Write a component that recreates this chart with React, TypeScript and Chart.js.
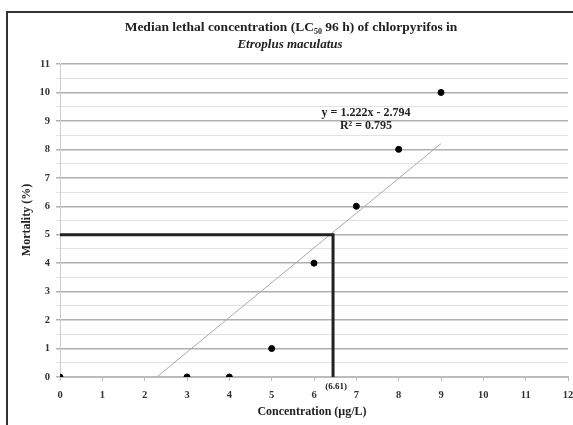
import React, { useEffect, useRef } from "react";
import { Chart, registerables } from "chart.js";

Chart.register(...registerables);

const concentration = [0, 3, 4, 5, 6, 7, 8, 9];
const mortality = [0, 0, 0, 1, 4, 6, 8, 10];
const slope = 1.222;
const intercept = -2.794;
const rSquared = "0.795";
const trendEndX = 9;
const lc50X = 6.45;
const lc50Y = 5;
const lc50Label = "(6.61)";
const xTicksMax = 12;
const yTicksMax = 11;

const SERIF = '"Liberation Serif", "Times New Roman", serif';

const overlay = {
  id: "overlay",
  afterDraw(chart: any) {
    const ctx = chart.ctx as CanvasRenderingContext2D;
    const xs = chart.scales.x;
    ctx.save();
    // frame
    ctx.strokeStyle = "#333";
    ctx.lineWidth = 2;
    ctx.beginPath();
    ctx.moveTo(7, 425);
    ctx.lineTo(7, 12);
    ctx.lineTo(573, 12);
    ctx.stroke();

    ctx.fillStyle = "#222";
    ctx.textBaseline = "middle";
    // title line 1 with subscript
    const big = `bold 13.5px ${SERIF}`;
    const small = `bold 8px ${SERIF}`;
    const p1 = "Median lethal concentration (LC";
    const p2 = "50";
    const p3 = " 96 h) of chlorpyrifos in";
    ctx.font = big;
    const w1 = ctx.measureText(p1).width;
    const w3 = ctx.measureText(p3).width;
    ctx.font = small;
    const w2 = ctx.measureText(p2).width;
    const total = w1 + w2 + w3;
    let x = 291 - total / 2;
    ctx.textAlign = "left";
    ctx.font = big;
    ctx.fillText(p1, x, 28);
    x += w1;
    ctx.font = small;
    ctx.fillText(p2, x, 32);
    x += w2;
    ctx.font = big;
    ctx.fillText(p3, x, 28);
    // title line 2
    ctx.textAlign = "center";
    ctx.font = `italic bold 13px ${SERIF}`;
    ctx.fillText("Etroplus maculatus", 290, 45);

    // equation
    ctx.font = `bold 12px ${SERIF}`;
    ctx.fillText("y = " + slope.toFixed(3) + "x - " + Math.abs(intercept).toFixed(3), 366, 113);
    ctx.fillText("R\u00B2 = " + rSquared, 366, 126);

    // lc50 label
    ctx.font = `bold 9px ${SERIF}`;
    ctx.fillText(lc50Label, xs.getPixelForValue(lc50X) + 3, 387);

    // axis titles
    ctx.font = `bold 12px ${SERIF}`;
    ctx.fillText("Concentration (\u00B5g/L)", 312, 412);
    ctx.translate(27, 220);
    ctx.rotate(-Math.PI / 2);
    ctx.fillText("Mortality (%)", 0, 0);
    ctx.restore();
  },
};

export default function App() {
  const ref = useRef<HTMLCanvasElement>(null);
  useEffect(() => {
    const x0 = -intercept / slope;
    const chart = new Chart(ref.current!, {
      type: "scatter",
      data: {
        datasets: [
          {
            type: "line",
            data: [
              { x: 0, y: lc50Y },
              { x: lc50X, y: lc50Y },
              { x: lc50X, y: 0 },
            ],
            borderColor: "#222",
            borderWidth: 3,
            pointRadius: 0,
            fill: false,
            order: 2,
          } as any,
          {
            type: "line",
            data: [
              { x: x0, y: 0 },
              { x: trendEndX, y: slope * trendEndX + intercept },
            ],
            borderColor: "#aaa",
            borderWidth: 1,
            pointRadius: 0,
            fill: false,
            order: 3,
          } as any,
          {
            data: concentration.map((c, i) => ({ x: c, y: mortality[i] })),
            backgroundColor: "#000",
            borderColor: "#000",
            pointRadius: 3,
            order: 1,
          },
        ],
      },
      options: {
        responsive: false,
        animation: false,
        layout: { padding: { top: 64, right: 5, left: 0, bottom: 0 } },
        plugins: { legend: { display: false }, tooltip: { enabled: false }, title: { display: false } },
        scales: {
          x: {
            type: "linear",
            min: 0,
            max: xTicksMax,
            ticks: {
              stepSize: 1,
              color: "#333",
              font: { family: SERIF, size: 10.5, weight: "bold" },
              padding: 8,
            },
            grid: { drawOnChartArea: false, tickLength: 4, color: "#bbb" },
            border: { color: "#bbb", width: 2 },
            afterFit: (s: any) => {
              s.height = 48;
              s.paddingRight = 1;
              s.paddingLeft = 0;
            },
          },
          y: {
            type: "linear",
            min: 0,
            max: yTicksMax,
            ticks: {
              stepSize: 0.5,
              autoSkip: false,
              color: "#333",
              font: { family: SERIF, size: 10.5, weight: "bold" },
              padding: 6,
              callback: (v: any) => (Number(v) % 1 === 0 ? String(v) : ""),
            },
            grid: {
              color: (c: any) => (c.tick && c.tick.value % 1 === 0 ? "#b0b0b0" : "#e2e2e2"),
              lineWidth: (c: any) => (c.tick && c.tick.value % 1 === 0 ? 1.5 : 1),
              tickLength: 4,
            },
            border: { color: "#ccc" },
            afterFit: (s: any) => {
              s.width = 60;
            },
          },
        },
      },
      plugins: [overlay],
    });
    return () => chart.destroy();
  }, []);
  return (
    <div style={{ position: "absolute", left: 0, top: 0, width: 573, height: 425, background: "#fff" }}>
      <canvas ref={ref} width={573} height={425} />
    </div>
  );
}
